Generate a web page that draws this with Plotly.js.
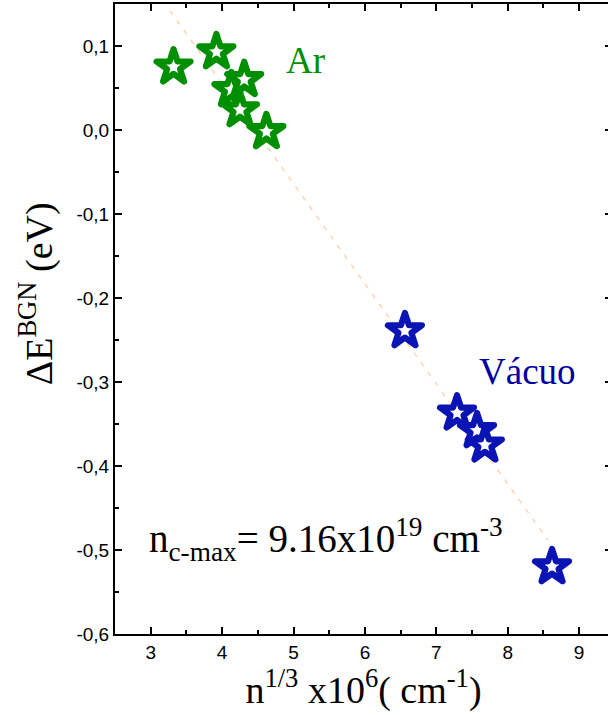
<!DOCTYPE html>
<html>
<head>
<meta charset="utf-8">
<script src="https://cdn.plot.ly/plotly-3.0.1.min.js"></script>
<style>
  html, body { margin: 0; padding: 0; overflow: hidden; background: #fff; }
  #wrap { width: 608px; height: 715px; overflow: hidden; }
  #chart path.point { stroke-linejoin: round; }
</style>
</head>
<body>
<div id="wrap"><div id="chart"></div></div>
<script>
// Ar samples
const arX = [3.32, 3.92, 4.13, 4.31, 4.25, 4.62];
const arY = [0.075, 0.093, 0.048, 0.060, 0.024, -0.002];
// Vácuo samples
const vacX = [6.56, 7.29, 7.57, 7.68, 8.62];
const vacY = [-0.239, -0.337, -0.358, -0.375, -0.520];
// linear fit
const fitX = [3.27, 8.56];
const fitY = [0.142, -0.488];
// ticks
const xTickVals = [3, 4, 5, 6, 7, 8, 9];
const xTickText = ['3', '4', '5', '6', '7', '8', '9'];
const yTickVals = [0.1, 0.0, -0.1, -0.2, -0.3, -0.4, -0.5, -0.6];
const yTickText = ['0,1', '0,0', '-0,1', '-0,2', '-0,3', '-0,4', '-0,5', '-0,6'];

const green = '#008f00';
const blue = '#0a14b4';
const serif = 'Liberation Serif, Times New Roman, serif';
const sans = 'Liberation Sans, Arial, sans-serif';

const traces = [
  {x: fitX, y: fitY, mode: 'lines', type: 'scatter', hoverinfo: 'skip',
   line: {color: 'rgba(255,170,100,0.5)', width: 1.5, dash: '5px,7px'}},
  {x: arX, y: arY, mode: 'markers', type: 'scatter', name: 'Ar',
   marker: {symbol: 'star', size: 25.5, color: 'white', line: {color: green, width: 6.2}}},
  {x: vacX, y: vacY, mode: 'markers', type: 'scatter', name: 'Vácuo',
   marker: {symbol: 'star', size: 25.5, color: 'white', line: {color: blue, width: 6.2}}}
];

const axisCommon = {
  showline: true, linecolor: '#000', linewidth: 2, mirror: 'allticks',
  ticks: 'inside', ticklen: 7, tickwidth: 2, tickcolor: '#000',
  showgrid: false, zeroline: false,
  tickfont: {family: sans, size: 19, color: '#000'},
  minor: {ticks: 'inside', ticklen: 4, tickwidth: 2, tickcolor: '#000', showgrid: false}
};

const layout = {
  width: 612, height: 715,
  margin: {l: 115, r: 0, t: 4, b: 81},
  paper_bgcolor: '#fff', plot_bgcolor: '#fff',
  showlegend: false,
  xaxis: Object.assign({}, axisCommon, {
    range: [2.5, 9.46], tickmode: 'array', tickvals: xTickVals, ticktext: xTickText,
    minor: Object.assign({}, axisCommon.minor, {dtick: 0.5, tick0: 2.5}),
    title: {text: 'n<sup>1/3</sup> x10<sup>6</sup>( cm<sup>-1</sup>)', standoff: 4,
            font: {family: serif, size: 38, color: '#000'}}
  }),
  yaxis: Object.assign({}, axisCommon, {
    range: [-0.6, 0.15], tickmode: 'array', tickvals: yTickVals, ticktext: yTickText,
    minor: Object.assign({}, axisCommon.minor, {dtick: 0.05, tick0: 0}),
    title: {text: ''}
  }),
  annotations: [
    {text: 'ΔE<sup>BGN</sup> (eV)', xref: 'paper', yref: 'paper', x: -0.158, y: 0.540,
     xanchor: 'center', yanchor: 'middle', textangle: -90, showarrow: false,
     font: {family: serif, size: 38, color: '#000'}},
    {text: 'Ar', xref: 'paper', yref: 'paper', x: 0.384, y: 0.911,
     xanchor: 'center', yanchor: 'middle', showarrow: false,
     font: {family: serif, size: 37, color: green}},
    {text: 'Vácuo', xref: 'paper', yref: 'paper', x: 0.829, y: 0.416,
     xanchor: 'center', yanchor: 'middle', showarrow: false,
     font: {family: serif, size: 37, color: '#0000a0'}},
    {text: 'n<sub>c-max</sub>= 9.16x10<sup>19</sup> cm<sup>-3</sup>', xref: 'paper', yref: 'paper',
     x: 0.064, y: 0.150, xanchor: 'left', yanchor: 'middle', showarrow: false,
     font: {family: serif, size: 39, color: '#000'}}
  ]
};

Plotly.newPlot('chart', traces, layout, {displayModeBar: false, staticPlot: true});
</script>
</body>
</html>
